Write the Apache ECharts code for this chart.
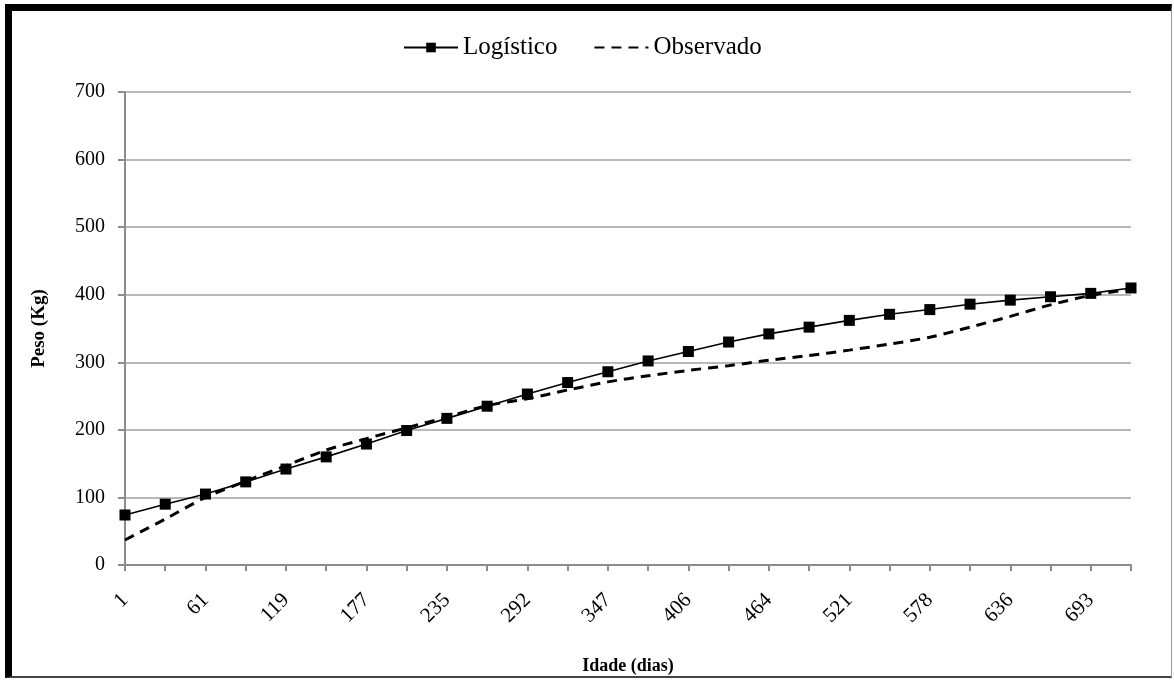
<!DOCTYPE html>
<html>
<head>
<meta charset="utf-8">
<script src="https://cdn.jsdelivr.net/npm/echarts@6/dist/echarts.min.js"></script>
<style>
  html, body { margin: 0; padding: 0; background: #fff; }
  #main { width: 1174px; height: 680px; }
  #frame {
    position: absolute; left: 5px; top: 4px; width: 1159px; height: 665px;
    border-top: 7px solid #000; border-left: 7px solid #000;
    border-right: 1px solid #999; border-bottom: 2px solid #444;
    pointer-events: none;
  }
</style>
</head>
<body>
<div id="main"></div>
<div id="frame"></div>
<script>
// idade (dias) — labels shown on every other point
const idades = ["1", "31", "61", "90", "119", "148", "177", "206", "235", "264", "292", "320", "347",
  "377", "406", "435", "464", "493", "521", "550", "578", "607", "636", "665", "693", "722"];
const logistico = [74, 90, 105, 123, 142, 160, 179, 199, 217, 235, 253, 270, 286,
  302, 316, 330, 342, 352, 362, 371, 378, 386, 392, 397, 402, 410];
const observado = [37, 68, 100, 124, 147, 170, 187, 203, 219, 236, 246, 259, 271,
  280, 288, 295, 303, 310, 318, 327, 337, 352, 368, 385, 399, 408];

const font = "'Liberation Serif', 'Times New Roman', serif";

var options = {
  animation: false,
  textStyle: { fontFamily: font },
  legend: {
    top: 30,
    left: 398,
    itemWidth: 54,
    itemHeight: 12,
    itemGap: 36,
    textStyle: { fontFamily: font, fontSize: 25, color: "#000" },
    data: [
      { name: "Logístico" },
      { name: "Observado", itemStyle: { opacity: 0 } }
    ]
  },
  grid: { left: 125, right: 43, top: 92, bottom: 113 },
  xAxis: {
    type: "category",
    data: idades,
    boundaryGap: false,
    name: "Idade (dias)",
    nameLocation: "middle",
    nameGap: 92,
    nameTextStyle: { fontFamily: font, fontSize: 18, fontWeight: "bold", color: "#000" },
    axisLine: { lineStyle: { color: "#8c8c8c", width: 2 } },
    axisTick: { show: true, interval: 0, length: 6, lineStyle: { color: "#8c8c8c", width: 2 } },
    axisLabel: { interval: 1, rotate: 45, margin: 32, fontFamily: font, fontSize: 21, color: "#000" }
  },
  yAxis: {
    type: "value",
    min: 0,
    max: 700,
    interval: 100,
    name: "Peso (Kg)",
    nameLocation: "middle",
    nameGap: 76,
    nameTextStyle: { fontFamily: font, fontSize: 19, fontWeight: "bold", color: "#000" },
    axisLine: { show: true, lineStyle: { color: "#8c8c8c", width: 2 } },
    axisTick: { show: true, length: 7, lineStyle: { color: "#8c8c8c", width: 2 } },
    axisLabel: { margin: 20, fontFamily: font, fontSize: 20, color: "#000" },
    splitLine: { lineStyle: { color: "#a0a0a0", width: 1.5 } }
  },
  series: [
    {
      name: "Logístico",
      type: "line",
      data: logistico,
      symbol: "rect",
      symbolSize: 11,
      itemStyle: { color: "#000" },
      lineStyle: { color: "#000", width: 1.6 },
      z: 3
    },
    {
      name: "Observado",
      type: "line",
      data: observado,
      smooth: 0.3,
      showSymbol: false,
      symbol: "none",
      itemStyle: { color: "#000" },
      lineStyle: { color: "#000", width: 3, type: [10, 7] },
      z: 2
    }
  ]
};

var myChart = echarts.init(document.getElementById("main"));
myChart.setOption(options);
</script>
</body>
</html>
